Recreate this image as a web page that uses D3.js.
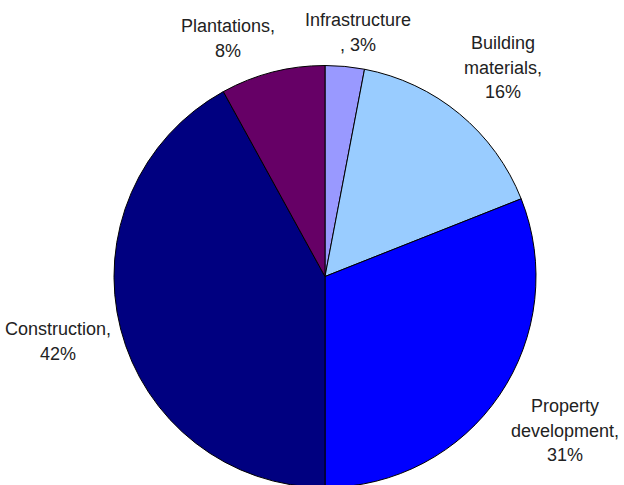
<!DOCTYPE html>
<html>
<head>
<meta charset="utf-8">
<script src="https://cdn.jsdelivr.net/npm/d3@7"></script>
<style>
  body { margin: 0; background: #fff; }
  svg { display: block; }
</style>
</head>
<body>
<script>
// data
var categories = ["Infrastructure", "Building materials", "Property development", "Construction", "Plantations"];
var shares = [3, 16, 31, 42, 8];
var labelLines = [
  ["Infrastructure", ", 3%"],
  ["Building", "materials,", "16%"],
  ["Property", "development,", "31%"],
  ["Construction,", "42%"],
  ["Plantations,", "8%"]
];
var colours = ["#9999FF", "#99CCFF", "#0000FF", "#000080", "#660066"];

// layout
var width = 624, height = 485;
var cx = 325, cy = 276.5, radius = 211;
// first-line baseline anchor of each label (x centre, y)
var labelAnchor = [[358, 26], [503, 49], [565, 412], [58, 335], [228, 32]];
var lineStep = 24.5;

var svg = d3.select("body").append("svg")
    .attr("width", width)
    .attr("height", height);

var pie = d3.pie().sort(null).value(function(d){ return d; });
var arc = d3.arc().innerRadius(0).outerRadius(radius);

var g = svg.append("g").attr("transform", "translate(" + cx + "," + cy + ")");

g.selectAll("path")
    .data(pie(shares))
    .enter().append("path")
    .attr("d", arc)
    .attr("fill", function(d, i){ return colours[i]; })
    .attr("stroke", "#000")
    .attr("stroke-width", 1)
    .attr("stroke-linejoin", "round");

/* labels */
var labels = svg.selectAll("text.lbl")
    .data(labelLines)
    .enter().append("text")
    .attr("class", "lbl")
    .attr("text-anchor", "middle")
    .attr("font-family", "'Liberation Sans', Arial, sans-serif")
    .attr("font-size", 18)
    .attr("fill", "#222");

labels.each(function(lines, i){
    var t = d3.select(this);
    lines.forEach(function(s, j){
        t.append("tspan")
            .attr("x", labelAnchor[i][0])
            .attr("y", labelAnchor[i][1] + j * lineStep)
            .text(s);
    });
});
</script>
</body>
</html>
